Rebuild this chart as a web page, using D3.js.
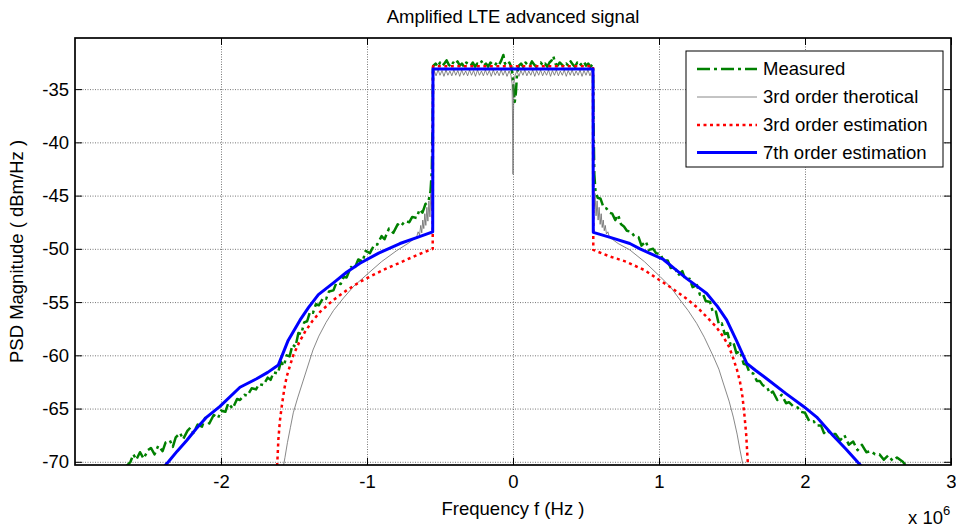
<!DOCTYPE html>
<html><head><meta charset="utf-8">
<script src="https://cdn.jsdelivr.net/npm/d3@7"></script>
<style>
body{margin:0;background:#fff;}
text{font-family:"Liberation Sans",Arial,Helvetica,sans-serif;fill:#000;}
</style></head><body>
<svg id="chart" width="956" height="527"></svg>
<script>
// ---- data (frequency in units of 1e6 Hz, PSD in dBm/Hz) ----
const xTicks = [-2, -1, 0, 1, 2, 3];
const yTicks = [-70, -65, -60, -55, -50, -45, -40, -35];
const seriesNames = ["Measured", "3rd order therotical", "3rd order estimation", "7th order estimation"];

const measured = [
 [-2.66,-70.6],[-2.62,-70.0],[-2.60,-69.3],[-2.58,-69.8],[-2.555,-69.1],[-2.53,-69.7],[-2.50,-68.9],[-2.48,-68.7],[-2.455,-69.3],[-2.43,-68.5],
 [-2.40,-69.0],[-2.38,-68.2],[-2.35,-68.0],[-2.33,-68.6],[-2.31,-67.7],[-2.28,-67.3],[-2.26,-67.9],[-2.23,-67.1],[-2.21,-66.8],[-2.19,-67.3],
 [-2.16,-66.5],[-2.13,-66.7],[-2.11,-65.9],[-2.08,-66.4],[-2.05,-65.6],[-2.02,-65.9],[-2.00,-65.2],[-1.97,-65.3],[-1.95,-64.5],[-1.92,-65.0],
 [-1.89,-64.1],[-1.87,-64.2],[-1.84,-63.7],[-1.82,-63.8],[-1.79,-63.1],[-1.76,-63.2],[-1.74,-62.7],[-1.71,-62.8],[-1.68,-62.1],[-1.66,-62.3],
 [-1.64,-61.6],[-1.61,-61.7],[-1.59,-60.6],[-1.57,-61.0],[-1.55,-60.0],[-1.53,-60.1],[-1.51,-59.0],[-1.49,-59.2],[-1.47,-57.9],[-1.45,-58.0],
 [-1.43,-56.9],[-1.41,-56.8],[-1.39,-55.9],[-1.37,-56.0],[-1.35,-55.2],[-1.33,-55.3],[-1.30,-54.6],[-1.28,-54.7],[-1.26,-54.0],[-1.23,-53.9],
 [-1.21,-53.2],[-1.18,-53.3],[-1.16,-52.6],[-1.14,-52.7],[-1.11,-51.7],[-1.09,-52.0],[-1.06,-51.0],[-1.03,-51.2],[-1.01,-50.2],[-0.98,-50.4],
 [-0.95,-49.6],[-0.93,-49.6],[-0.90,-48.8],[-0.88,-49.1],[-0.85,-48.1],[-0.82,-48.5],[-0.79,-47.7],[-0.77,-47.9],[-0.74,-47.4],[-0.71,-47.5],
 [-0.69,-47.0],[-0.66,-47.1],[-0.64,-46.3],[-0.62,-46.6],[-0.60,-45.8],[-0.58,-45.6],[-0.565,-44.6],[-0.556,-42.6],[-0.550,-37.5],[-0.548,-33.0],
 [-0.545,-32.8],[-0.53,-32.6],[-0.515,-32.9],[-0.50,-32.5],[-0.485,-32.8],[-0.47,-32.6],[-0.455,-32.3],[-0.44,-32.7],[-0.425,-32.9],[-0.41,-32.5],
 [-0.395,-32.7],[-0.38,-32.4],[-0.365,-32.8],[-0.35,-32.6],[-0.335,-32.9],[-0.32,-32.5],[-0.305,-32.7],[-0.29,-32.8],[-0.275,-32.5],[-0.26,-32.9],
 [-0.245,-32.6],[-0.23,-32.7],[-0.215,-32.4],[-0.20,-32.8],[-0.185,-32.6],[-0.17,-32.9],[-0.155,-32.5],[-0.14,-32.7],[-0.125,-32.8],[-0.11,-32.5],
 [-0.095,-32.7],[-0.08,-32.3],[-0.066,-31.8],[-0.055,-32.6],[-0.04,-32.8],[-0.025,-32.5],[-0.012,-32.9],[-0.004,-33.6],[0.004,-35.0],[0.012,-36.2],
 [0.02,-35.3],[0.028,-33.5],[0.04,-32.8],[0.055,-32.6],[0.07,-32.9],[0.085,-32.5],[0.10,-32.7],[0.115,-32.8],[0.13,-32.4],[0.145,-32.7],
 [0.16,-32.9],[0.175,-32.6],[0.19,-32.5],[0.205,-32.8],[0.22,-32.6],[0.235,-32.9],[0.25,-32.5],[0.265,-32.3],[0.276,-31.9],[0.29,-32.6],
 [0.305,-32.8],[0.32,-32.5],[0.335,-32.7],[0.35,-32.9],[0.365,-32.6],[0.38,-32.8],[0.395,-32.4],[0.41,-32.7],[0.425,-32.9],[0.44,-32.5],
 [0.455,-32.8],[0.47,-32.6],[0.485,-32.4],[0.50,-32.8],[0.515,-32.6],[0.53,-32.9],[0.545,-32.7],
 [0.548,-32.9],[0.552,-38.5],[0.557,-43.0],[0.565,-44.6],[0.58,-45.2],[0.60,-45.3],[0.62,-46.1],[0.64,-46.2],[0.66,-46.6],[0.68,-46.7],
 [0.70,-47.3],[0.72,-46.8],[0.74,-47.7],[0.76,-47.9],[0.78,-48.3],[0.81,-48.4],[0.83,-48.8],[0.86,-48.9],[0.88,-49.7],[0.91,-49.3],
 [0.93,-50.1],[0.96,-50.0],[0.98,-50.4],[1.01,-50.5],[1.03,-51.1],[1.06,-51.1],[1.08,-51.8],[1.11,-51.7],[1.13,-52.5],[1.16,-52.1],
 [1.18,-52.9],[1.21,-52.8],[1.23,-53.6],[1.26,-53.4],[1.28,-54.3],[1.30,-54.2],[1.32,-54.9],[1.35,-55.0],[1.37,-56.0],[1.39,-55.9],
 [1.41,-57.1],[1.43,-57.0],[1.45,-58.0],[1.47,-57.9],[1.49,-59.0],[1.51,-58.8],[1.53,-59.8],[1.555,-59.6],[1.58,-60.8],[1.60,-60.9],
 [1.62,-61.6],[1.645,-61.7],[1.67,-62.4],[1.69,-62.4],[1.71,-62.8],[1.74,-63.0],[1.76,-63.6],[1.78,-63.4],[1.81,-64.2],[1.84,-63.7],
 [1.87,-64.5],[1.89,-64.4],[1.92,-64.8],[1.95,-64.9],[1.97,-65.3],[2.00,-65.4],[2.03,-66.2],[2.06,-66.2],[2.08,-66.6],[2.11,-66.6],
 [2.13,-67.3],[2.15,-67.0],[2.18,-67.4],[2.21,-67.4],[2.24,-68.0],[2.27,-67.5],[2.30,-68.4],[2.33,-68.1],[2.36,-68.9],[2.39,-68.4],
 [2.42,-69.1],[2.45,-69.0],[2.48,-69.3],[2.51,-69.3],[2.54,-69.8],[2.57,-69.4],[2.60,-69.9],[2.63,-69.6],[2.67,-70.0],[2.70,-70.5]
];

const theoretical3 = [
 [-1.575,-70.6],[-1.562,-69.6],[-1.545,-68.2],[-1.525,-66.8],[-1.505,-65.4],[-1.475,-64.0],[-1.44,-62.5],[-1.405,-61.0],[-1.37,-59.5],[-1.33,-58.2],
 [-1.28,-56.9],[-1.23,-55.8],[-1.16,-54.6],[-1.09,-53.5],[-1.00,-52.4],[-0.90,-51.2],[-0.80,-50.2],[-0.72,-49.5],[-0.68,-49.1],[-0.66,-48.9],
 [-0.65,-48.4],[-0.64,-48.7],[-0.632,-47.8],[-0.625,-48.5],[-0.618,-47.3],[-0.611,-48.1],[-0.604,-46.7],[-0.597,-47.8],[-0.590,-46.1],[-0.583,-47.4],
 [-0.576,-45.5],[-0.569,-47.0],[-0.562,-44.8],[-0.555,-46.4],[-0.549,-44.0],[-0.548,-33.3],
 [-0.540,-33.25],[-0.527,-33.75],[-0.513,-33.2],[-0.500,-33.7],[-0.486,-33.25],[-0.473,-33.8],[-0.459,-33.2],[-0.446,-33.7],[-0.432,-33.3],[-0.419,-33.75],
 [-0.405,-33.2],[-0.392,-33.7],[-0.378,-33.25],[-0.365,-33.8],[-0.351,-33.2],[-0.338,-33.7],[-0.324,-33.3],[-0.311,-33.75],[-0.297,-33.2],[-0.284,-33.7],
 [-0.270,-33.25],[-0.257,-33.8],[-0.243,-33.2],[-0.230,-33.7],[-0.216,-33.3],[-0.203,-33.75],[-0.189,-33.2],[-0.176,-33.7],[-0.162,-33.25],[-0.149,-33.8],
 [-0.135,-33.2],[-0.122,-33.7],[-0.108,-33.3],[-0.095,-33.75],[-0.081,-33.2],[-0.068,-33.7],[-0.054,-33.25],[-0.041,-33.8],[-0.027,-33.3],[-0.014,-33.7],
 [-0.006,-34.5],[-0.003,-38.0],[0.000,-43.0],[0.003,-38.0],[0.006,-34.5],
 [0.014,-33.7],[0.027,-33.3],[0.041,-33.8],[0.054,-33.25],[0.068,-33.7],[0.081,-33.2],[0.095,-33.75],[0.108,-33.3],[0.122,-33.7],[0.135,-33.2],
 [0.149,-33.8],[0.162,-33.25],[0.176,-33.7],[0.189,-33.2],[0.203,-33.75],[0.216,-33.3],[0.230,-33.7],[0.243,-33.2],[0.257,-33.8],[0.270,-33.25],
 [0.284,-33.7],[0.297,-33.2],[0.311,-33.75],[0.324,-33.3],[0.338,-33.7],[0.351,-33.2],[0.365,-33.8],[0.378,-33.25],[0.392,-33.7],[0.405,-33.2],
 [0.419,-33.75],[0.432,-33.3],[0.446,-33.7],[0.459,-33.2],[0.473,-33.8],[0.486,-33.25],[0.500,-33.7],[0.513,-33.2],[0.527,-33.75],[0.540,-33.25],
 [0.548,-33.3],[0.549,-44.0],[0.555,-46.3],[0.562,-44.8],[0.569,-46.9],[0.576,-45.5],[0.583,-47.3],[0.590,-46.1],[0.597,-47.7],[0.604,-46.7],
 [0.611,-48.0],[0.618,-47.3],[0.625,-48.3],[0.632,-47.8],[0.64,-48.6],[0.65,-48.4],[0.66,-48.9],[0.68,-49.1],[0.72,-49.5],[0.80,-50.1],
 [0.90,-51.2],[1.007,-52.6],[1.08,-53.6],[1.144,-54.8],[1.20,-55.8],[1.258,-57.0],[1.31,-58.3],[1.372,-60.1],[1.41,-61.3],[1.44,-62.6],
 [1.48,-64.3],[1.509,-65.8],[1.535,-67.4],[1.555,-68.9],[1.573,-70.15],[1.58,-71.0]
];

const estimation3 = [
 [-1.62,-71.0],[-1.614,-70.0],[-1.607,-67.9],[-1.597,-66.2],[-1.584,-64.8],[-1.567,-63.2],[-1.55,-62.0],[-1.528,-61.0],[-1.505,-60.0],[-1.465,-58.8],
 [-1.425,-57.8],[-1.375,-56.8],[-1.32,-55.9],[-1.23,-54.8],[-1.14,-53.9],[-1.048,-53.1],[-0.95,-52.4],[-0.86,-51.8],[-0.774,-51.3],[-0.66,-50.6],
 [-0.55,-50.0],[-0.548,-32.85],[0.548,-32.85],[0.55,-50.1],[0.66,-50.7],[0.774,-51.2],[0.90,-52.0],[1.00,-52.9],[1.10,-53.8],[1.19,-54.7],
 [1.27,-55.6],[1.327,-56.4],[1.39,-57.3],[1.44,-58.25],[1.48,-59.2],[1.509,-60.3],[1.535,-61.4],[1.555,-62.5],[1.572,-63.9],[1.585,-65.6],
 [1.597,-67.4],[1.607,-69.8],[1.612,-71.0]
];

const estimation7 = [
 [-2.40,-70.6],[-2.36,-70.0],[-2.30,-69.0],[-2.235,-68.0],[-2.17,-66.9],[-2.098,-65.8],[-2.007,-64.8],[-1.87,-63.0],[-1.756,-62.2],[-1.68,-61.6],
 [-1.607,-60.9],[-1.54,-58.6],[-1.459,-56.7],[-1.40,-55.5],[-1.333,-54.3],[-1.23,-53.2],[-1.14,-52.2],[-1.048,-51.35],[-0.92,-50.4],[-0.774,-49.5],
 [-0.65,-48.9],[-0.55,-48.4],[-0.548,-33.1],[0.548,-33.1],[0.55,-48.45],[0.66,-48.9],[0.80,-49.5],[0.87,-50.0],[1.03,-51.0],[1.11,-51.9],
 [1.19,-52.8],[1.26,-53.5],[1.327,-54.2],[1.40,-55.4],[1.464,-56.7],[1.53,-58.6],[1.601,-60.75],[1.66,-61.4],[1.738,-62.2],[1.87,-63.6],
 [1.99,-64.8],[2.08,-65.8],[2.19,-67.5],[2.28,-68.8],[2.365,-70.1],[2.40,-70.6]
];

// ---- drawing ----
const svg = d3.select("#chart");
svg.append("rect").attr("width",956).attr("height",527).attr("fill","#fff");
const L = 75, R = 951, T = 38, B = 465;
const x = d3.scaleLinear().domain([-3, 3]).range([L, R]);
const y = d3.scaleLinear().domain([-70.3, -30.2]).range([B, T]);
const FS = 18.5;

svg.append("defs").append("clipPath").attr("id","clip")
  .append("rect").attr("x",L).attr("y",T).attr("width",R-L).attr("height",B-T);

// grid
const gridX = svg.append("g").attr("transform",`translate(0,${B})`)
  .call(d3.axisBottom(x).tickValues(xTicks.filter(d=>d<3)).tickSize(-(B-T)).tickFormat(""));
const gridY = svg.append("g").attr("transform",`translate(${L},0)`)
  .call(d3.axisLeft(y).tickValues(yTicks).tickSize(-(R-L)).tickFormat(""));
[gridX, gridY].forEach(g=>{
  g.select(".domain").remove();
  g.selectAll("line").attr("stroke","#666").attr("stroke-width",0.9).attr("stroke-dasharray","1,1.5");
});

// series
const line = d3.line().x(d=>x(d[0])).y(d=>y(d[1]));
const plot = svg.append("g").attr("clip-path","url(#clip)");
const styles = [
  {data: measured, color:"#008000", width:2.5, dash:"13,4,3,4"},
  {data: theoretical3, color:"#6a6a6a", width:0.8, dash:null},
  {data: estimation3, color:"#ff0000", width:2.5, dash:"3,3.5"},
  {data: estimation7, color:"#0000ff", width:3, dash:null}
];
styles.forEach(s=>{
  plot.append("path").datum(s.data).attr("d",line)
    .attr("fill","none").attr("stroke",s.color).attr("stroke-width",s.width)
    .attr("stroke-linejoin","round")
    .attr("stroke-dasharray",s.dash);
});

// axes with inward ticks
const TL = 7;
const ax = svg.append("g").attr("transform",`translate(0,${B})`)
  .call(d3.axisBottom(x).tickValues(xTicks).tickSizeInner(-TL).tickSizeOuter(0).tickPadding(10).tickFormat(d3.format("d")));
const ay = svg.append("g").attr("transform",`translate(${L},0)`)
  .call(d3.axisLeft(y).tickValues(yTicks).tickSizeInner(-TL).tickSizeOuter(0).tickPadding(6).tickFormat(d3.format("d")));
const axT = svg.append("g").attr("transform",`translate(0,${T})`)
  .call(d3.axisTop(x).tickValues(xTicks).tickSizeInner(-TL).tickSizeOuter(0).tickFormat(""));
const ayR = svg.append("g").attr("transform",`translate(${R},0)`)
  .call(d3.axisRight(y).tickValues(yTicks).tickSizeInner(-TL).tickSizeOuter(0).tickFormat(""));
[ax, ay, axT, ayR].forEach(g=>{
  g.select(".domain").remove();
  g.selectAll("line").attr("stroke","#000").attr("stroke-width",1);
  g.selectAll("text").attr("font-size",FS).attr("font-family","Liberation Sans, Arial, sans-serif").attr("fill","#000");
});
ax.selectAll("text").text(d=>d<0 ? "-"+Math.abs(d) : d);
ay.selectAll("text").text(d=>"-"+Math.abs(d));

// box
svg.append("rect").attr("x",L).attr("y",T).attr("width",R-L).attr("height",B-T)
  .attr("fill","none").attr("stroke","#000").attr("stroke-width",1.7);

// title & labels
svg.append("text").attr("x",513).attr("y",23).attr("text-anchor","middle")
  .attr("font-size",FS).text("Amplified LTE advanced signal");
svg.append("text").attr("x",513).attr("y",515).attr("text-anchor","middle")
  .attr("font-size",FS).text("Frequency f (Hz )");
svg.append("text").attr("transform",`translate(23,${(T+B)/2}) rotate(-90)`).attr("text-anchor","middle")
  .attr("font-size",FS).text("PSD Magnitude ( dBm/Hz )");
const ex = svg.append("text").attr("x",908).attr("y",524).attr("font-size",FS);
ex.append("tspan").text("x 10");
ex.append("tspan").attr("dy",-9).attr("font-size",13).text("6");

// legend
const lg = svg.append("g");
lg.append("rect").attr("x",686).attr("y",51).attr("width",257).attr("height",116)
  .attr("fill","#fff").attr("stroke","#000").attr("stroke-width",1);
const rowY = [69, 97, 125, 152.5];
styles.forEach((s,i)=>{
  lg.append("line").attr("x1",697).attr("x2",757).attr("y1",rowY[i]).attr("y2",rowY[i])
    .attr("stroke",s.color).attr("stroke-width",s.width).attr("stroke-dasharray",s.dash);
  lg.append("text").attr("x",763).attr("y",rowY[i]).attr("dy","0.35em")
    .attr("font-size",FS).text(seriesNames[i]);
});
</script>
</body></html>
